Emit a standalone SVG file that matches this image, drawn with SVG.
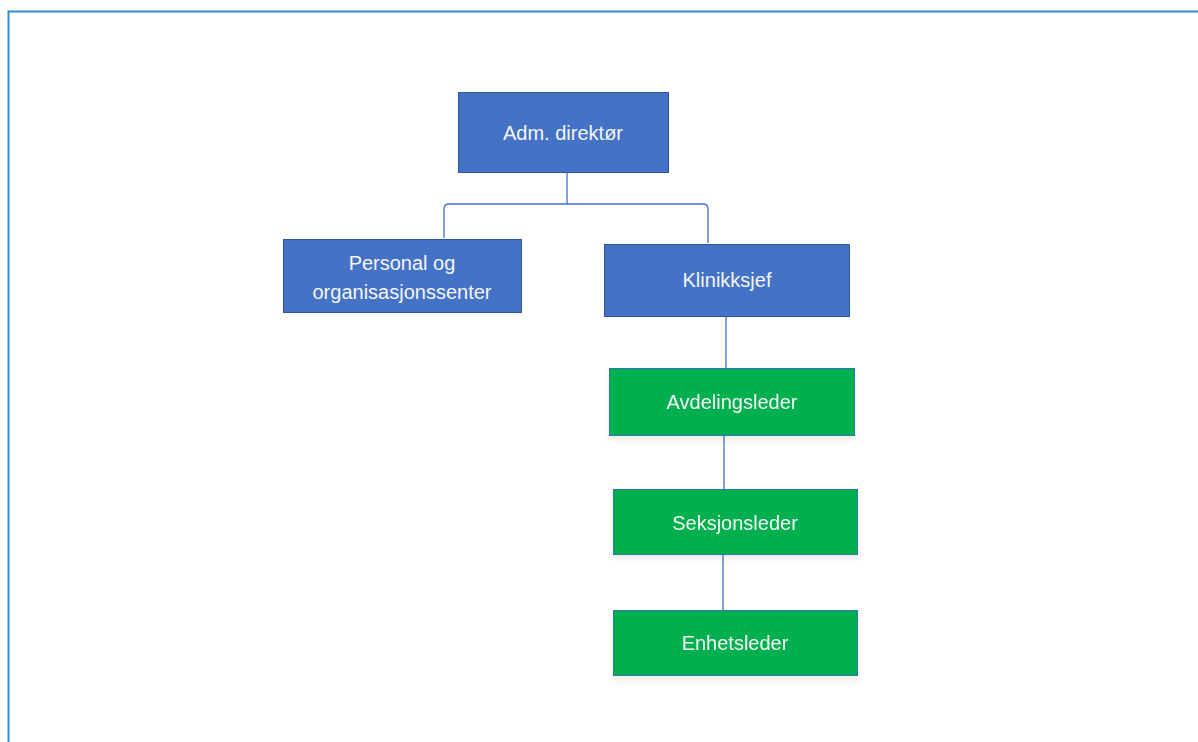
<svg xmlns="http://www.w3.org/2000/svg" width="1198" height="742" viewBox="0 0 1198 742">
<defs>
<style>
.blue{fill:#4472C4;stroke:#2F5597;stroke-width:1}
.green{fill:#00B050;stroke:#2E75B6;stroke-width:1}
.lbl{fill:#F5F5F5;font-family:"Liberation Sans",Arial,sans-serif;font-size:20px;text-anchor:middle}
.conn{fill:none;stroke:#4472C4;stroke-width:1.3}
</style>
<filter id="sh" x="-10%" y="-10%" width="120%" height="140%">
<feDropShadow dx="0" dy="4" stdDeviation="3" flood-color="#000" flood-opacity="0.08"/>
</filter>
</defs>
<rect width="1198" height="742" fill="#fff"/>
<path d="M8.5 742 V11.5 H1198" fill="none" stroke="#2E8FD0" stroke-width="2"/>
<g id="connectors">
<path class="conn" d="M567 172 V204"/>
<path class="conn" d="M444 238 V209 Q444 204 449 204 H703 Q708 204 708 209 V243"/>
<path class="conn" d="M726 316 V368"/>
<path class="conn" d="M724 436 V489"/>
<path class="conn" d="M723 555 V610"/>
</g>
<g id="adm">
<rect class="blue" x="458.5" y="92.5" width="210" height="80"/>
<text class="lbl" x="563" y="140">Adm. direktør</text>
</g>
<g id="personal">
<rect class="blue" x="283.5" y="239.5" width="238" height="73"/>
<text class="lbl" x="402" y="270">Personal og</text>
<text class="lbl" x="402" y="299">organisasjonssenter</text>
</g>
<g id="klinikksjef">
<rect class="blue" x="604.5" y="244.5" width="245" height="72"/>
<text class="lbl" x="727" y="287">Klinikksjef</text>
</g>
<g id="avdelingsleder" filter="url(#sh)">
<rect class="green" x="609.5" y="368.5" width="245" height="67"/>
<text class="lbl" x="732" y="409">Avdelingsleder</text>
</g>
<g id="seksjonsleder" filter="url(#sh)">
<rect class="green" x="613.5" y="489.5" width="244" height="65"/>
<text class="lbl" x="735" y="530">Seksjonsleder</text>
</g>
<g id="enhetsleder" filter="url(#sh)">
<rect class="green" x="613.5" y="610.5" width="244" height="65"/>
<text class="lbl" x="735" y="650">Enhetsleder</text>
</g>
</svg>
